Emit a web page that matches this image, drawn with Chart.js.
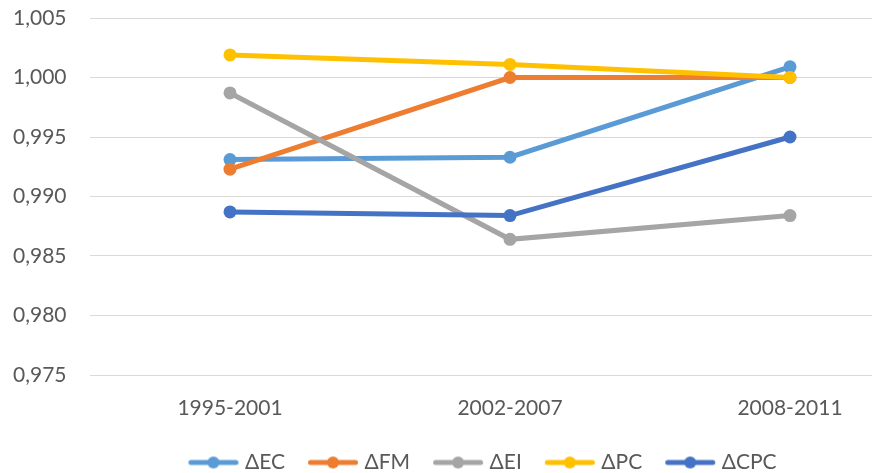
<!DOCTYPE html>
<html>
<head>
<meta charset="utf-8">
<script src="https://cdn.jsdelivr.net/npm/chart.js@4/dist/chart.umd.min.js"></script>
<style>
  html, body { margin: 0; padding: 0; background: #ffffff; overflow: hidden; }
  #wrap { position: relative; width: 964px; height: 473px; }
</style>
</head>
<body>
<div id="wrap"><canvas id="c"></canvas></div>
<script>
// Periods on the horizontal axis
const periods = ['1995-2001', '2002-2007', '2008-2011'];

// Index components per period
const dEC  = [0.9931, 0.9933, 1.0009];
const dFM  = [0.9923, 1.0000, 1.0000];
const dEI  = [0.9987, 0.9864, 0.9884];
const dPC  = [1.0019, 1.0011, 1.0000];
const dCPC = [0.9887, 0.9884, 0.9950];

const seriesNames = ['ΔEC', 'ΔFM', 'ΔEI', 'ΔPC', 'ΔCPC'];
const seriesData = [dEC, dFM, dEI, dPC, dCPC];
const seriesColors = ['#5B9BD5', '#ED7D31', '#A5A5A5', '#FFC000', '#4472C4'];

const FONT = "Lato, 'Open Sans', 'DejaVu Sans', sans-serif";
const TEXT = '#595959';

// Legend marker: a short line with a dot in the middle, drawn on the right
// part of a wider canvas so that the gap before each item stays wide
function legendMarker(color) {
  const cv = document.createElement('canvas');
  cv.width = 78; cv.height = 14;
  const g = cv.getContext('2d');
  g.strokeStyle = color;
  g.lineWidth = 5;
  g.lineCap = 'round';
  g.beginPath(); g.moveTo(29.5, 7); g.lineTo(74.5, 7); g.stroke();
  g.fillStyle = color;
  g.beginPath(); g.arc(52, 7, 6, 0, Math.PI * 2); g.fill();
  return cv;
}
const markers = seriesColors.map(legendMarker);

const datasets = seriesNames.map((name, i) => ({
  label: name,
  data: seriesData[i],
  borderColor: seriesColors[i],
  backgroundColor: seriesColors[i],
  borderWidth: 5,
  pointRadius: 6.5,
  pointHoverRadius: 6.5,
  pointBorderWidth: 0,
  tension: 0,
  fill: false,
  order: seriesNames.length - i
}));

Chart.defaults.font.family = FONT;
Chart.defaults.color = TEXT;

new Chart(document.getElementById('c'), {
  type: 'line',
  data: { labels: periods, datasets },
  options: {
    responsive: true,
    maintainAspectRatio: false,
    animation: false,
    layout: { padding: { top: 18, right: 34, left: 13, bottom: -10 } },
    plugins: {
      tooltip: { enabled: false },
      legend: {
        position: 'bottom',
        labels: {
          usePointStyle: true,
          pointStyleWidth: 68,
          padding: 1,
          color: TEXT,
          font: { size: 21, family: FONT },
          sort: (a, b) => a.datasetIndex - b.datasetIndex,
          generateLabels(chart) {
            const items = Chart.defaults.plugins.legend.labels.generateLabels(chart);
            items.forEach(it => { it.pointStyle = markers[it.datasetIndex]; });
            return items;
          }
        }
      }
    },
    scales: {
      x: {
        offset: true,
        grid: { display: false },
        border: { display: false },
        ticks: { color: TEXT, font: { size: 21 }, padding: 13, maxRotation: 0 },
        afterFit(s) { s.height = 76; }
      },
      y: {
        min: 0.975,
        max: 1.005,
        grid: { color: '#D9D9D9', lineWidth: 1, drawTicks: false },
        border: { display: false },
        ticks: {
          stepSize: 0.005,
          color: TEXT,
          font: { size: 21 },
          padding: 0,
          crossAlign: 'far',
          callback: v => v.toFixed(3).replace('.', ',')
        },
        afterFit(s) { s.width = 77; }
      }
    }
  }
});
</script>
</body>
</html>
